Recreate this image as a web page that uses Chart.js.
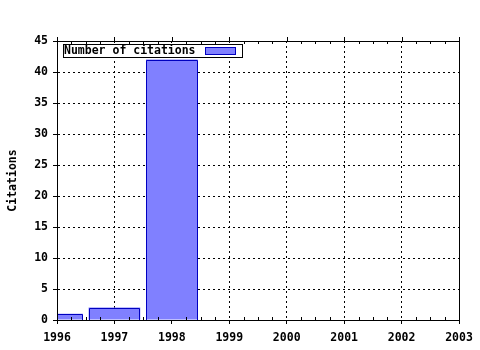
<!DOCTYPE html>
<html>
<head>
<meta charset="utf-8">
<script src="https://cdn.jsdelivr.net/npm/chart.js@4/dist/chart.umd.min.js"></script>
<style>
  html, body { margin: 0; padding: 0; background: #fff; }
  #wrap { width: 480px; height: 350px; }
</style>
</head>
<body>
<div id="wrap"><canvas id="chart" width="480" height="350"></canvas></div>
<script>
// Donnees
const years = [1996, 1997, 1998];
const citations = [1, 2, 42];
const seriesLabel = 'Number of citations';
const yTitle = 'Citations';

const FONT = { family: '"DejaVu Sans Mono", monospace', size: 11.5, weight: 'bold' };
const BAR_FILL = '#8080ff';
const BAR_EDGE = '#0000c0';

// contour des barres, cadre, petites graduations et legende
const framePlugin = {
    id: 'frame',
    afterDatasetsDraw(chart) {
        const { ctx, chartArea: a, scales: { x } } = chart;
        ctx.save();
        ctx.lineWidth = 1;
        ctx.setLineDash([]);

        // contour des barres a partir des elements de Chart.js
        ctx.save();
        ctx.beginPath();
        ctx.rect(a.left, a.top, a.right - a.left, a.bottom - a.top);
        ctx.clip();
        ctx.strokeStyle = BAR_EDGE;
        chart.getDatasetMeta(0).data.forEach(bar => {
            const p = bar.getProps(['x', 'y', 'base', 'width']);
            const l = Math.round(p.x - p.width / 2) + 0.5;
            const r = Math.round(p.x + p.width / 2) - 0.5;
            const t = Math.round(p.y) + 0.5;
            const b = Math.round(p.base);
            ctx.beginPath();
            ctx.moveTo(l, b);
            ctx.lineTo(l, t);
            ctx.lineTo(r, t);
            ctx.lineTo(r, b);
            ctx.stroke();
        });
        ctx.restore();

        ctx.strokeStyle = '#000';
        ctx.beginPath();
        for (let v = x.min; v <= x.max + 1e-9; v += 0.25) {
            const px = Math.round(x.getPixelForValue(v)) + 0.5;
            if (Math.abs(v - Math.round(v)) < 1e-9) {
                // graduation principale en haut, vers l'exterieur
                ctx.moveTo(px, a.top - 4);
                ctx.lineTo(px, a.top);
            } else {
                ctx.moveTo(px, a.bottom - 3);
                ctx.lineTo(px, a.bottom);
                ctx.moveTo(px, a.top);
                ctx.lineTo(px, a.top + 3);
            }
        }
        ctx.stroke();
        ctx.strokeRect(Math.round(a.left) + 0.5, Math.round(a.top) + 0.5,
            Math.round(a.right - a.left), Math.round(a.bottom - a.top));

        // legende
        const lx = Math.round(a.left) + 6, ly = Math.round(a.top) + 3;
        ctx.fillStyle = '#fff';
        ctx.fillRect(lx, ly, 179, 13);
        ctx.strokeRect(lx + 0.5, ly + 0.5, 179, 13);
        ctx.font = `${FONT.weight} ${FONT.size}px ${FONT.family}`;
        ctx.fillStyle = '#000';
        ctx.textBaseline = 'middle';
        ctx.textAlign = 'left';
        ctx.fillText(seriesLabel, lx + 1, ly + 7);
        ctx.fillStyle = BAR_FILL;
        ctx.fillRect(lx + 142, ly + 3, 30, 7);
        ctx.strokeStyle = BAR_EDGE;
        ctx.strokeRect(lx + 142.5, ly + 3.5, 30, 7);
        ctx.restore();
    }
};

new Chart(document.getElementById('chart'), {
    type: 'bar',
    data: {
        datasets: [{
            label: seriesLabel,
            data: years.map((y, i) => ({ x: y, y: citations[i] })),
            backgroundColor: BAR_FILL,
            borderWidth: 0,
            inflateAmount: 0,
            categoryPercentage: 1,
            barPercentage: 0.9,
            clip: 0
        }]
    },
    options: {
        responsive: false,
        animation: false,
        devicePixelRatio: 1,
        layout: { padding: { left: 0, top: 41, right: 21, bottom: 0 } },
        plugins: {
            legend: { display: false },
            tooltip: { enabled: false }
        },
        scales: {
            x: {
                type: 'linear',
                min: 1996,
                max: 2003,
                offset: false,
                grid: {
                    offset: false,
                    color: '#000',
                    lineWidth: 1,
                    tickColor: '#000',
                    tickLength: 4,
                    tickBorderDash: []
                },
                border: { display: true, color: '#000', dash: [2, 3] },
                ticks: {
                    stepSize: 1,
                    color: '#000',
                    font: FONT,
                    padding: 7,
                    maxRotation: 0,
                    autoSkip: false,
                    callback: v => String(v)
                },
                afterFit: s => { s.height = 30; }
            },
            y: {
                min: 0,
                max: 45,
                grid: {
                    color: '#000',
                    lineWidth: 1,
                    tickColor: '#000',
                    tickLength: 4,
                    tickBorderDash: []
                },
                border: { display: true, color: '#000', dash: [2, 3] },
                ticks: {
                    stepSize: 5,
                    color: '#000',
                    font: FONT,
                    padding: 5
                },
                title: {
                    display: true,
                    text: yTitle,
                    color: '#000',
                    font: FONT,
                    padding: { top: 6, bottom: 0 }
                },
                afterFit: s => { s.width = 57; }
            }
        }
    },
    plugins: [framePlugin]
});
</script>
</body>
</html>
